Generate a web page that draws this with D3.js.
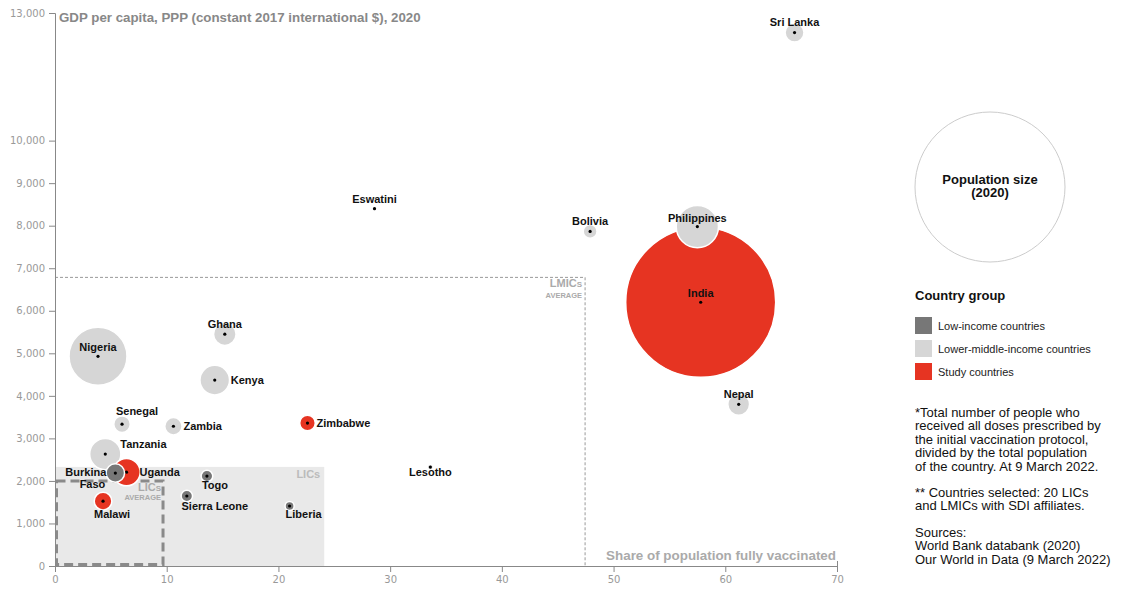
<!DOCTYPE html>
<html>
<head>
<meta charset="utf-8">
<script src="https://cdn.jsdelivr.net/npm/d3@7"></script>
<style>
  body { margin: 0; background: #fff; }
  svg { font-family: "Liberation Sans", Arial, sans-serif; }
  .tick text { font-family: "DejaVu Sans", sans-serif; font-size: 10px; fill: #999; }
  .axis path, .axis line { stroke: #888; }
</style>
</head>
<body>
<div id="vis"></div>
<script>
// countries, vaccination share (%), GDP per capita, population (millions), group
const countries  = ['India', 'Nigeria', 'Philippines', 'Tanzania', 'Kenya', 'Uganda', 'Ghana', 'Nepal', 'Sri Lanka', 'Burkina Faso', 'Malawi', 'Zambia', 'Senegal', 'Zimbabwe', 'Bolivia', 'Togo', 'Sierra Leone', 'Liberia', 'Lesotho', 'Eswatini'];
const vaccinated = [57.8, 3.85, 57.5, 4.5, 14.3, 6.4, 15.2, 61.2, 66.2, 5.4, 4.3, 10.6, 6.0, 22.6, 47.9, 13.6, 11.8, 21.0, 33.6, 28.6];
const gdp        = [6200, 4930, 7980, 2630, 4370, 2205, 5450, 3800, 12540, 2185, 1525, 3285, 3335, 3360, 7865, 2115, 1645, 1410, 2325, 8400];
const population = [1380, 206, 109.6, 59.7, 53.8, 45.7, 31.1, 29.1, 21.9, 20.9, 19.1, 18.4, 16.7, 14.9, 11.7, 8.3, 8.0, 5.1, 2.1, 1.2];
const group      = ['study', 'lmic', 'lmic', 'lmic', 'lmic', 'study', 'lmic', 'lmic', 'lmic', 'lic', 'study', 'lmic', 'lmic', 'study', 'lmic', 'lic', 'lic', 'lic', 'lmic', 'lmic'];

const xTicks = [0, 10, 20, 30, 40, 50, 60, 70];
const yTicks = [0, 1000, 2000, 3000, 4000, 5000, 6000, 7000, 8000, 9000, 10000, 13000];

// reference areas
const licArea = { x: 24.1, y: 2330 };
const licAverage = { x: 9.67, y: 2000 };
const lmicAverage = { x: 47.45, y: 6785 };

const groupKeys = ['lic', 'lmic', 'study'];
const groupNames = ['Low-income countries', 'Lower-middle-income countries', 'Study countries'];
const groupColours = ['#777777', '#d6d6d6', '#e63422'];

const notes = [
  ['*Total number of people who', 'received all doses prescribed by', 'the initial vaccination protocol,', 'divided by the total population', 'of the country. At 9 March 2022.'],
  ['** Countries selected: 20 LICs', 'and LMICs with SDI affiliates.'],
  ['Sources:', 'World Bank databank (2020)', 'Our World in Data (9 March 2022)']
];

// label placement relative to the bubble centre: [dx, dy, anchor]
const labelPos = {
  'India': [0, -5, 'middle'], 'Nigeria': [0, -5, 'middle'], 'Philippines': [0, -5, 'middle'],
  'Tanzania': [15, -6, 'start'], 'Kenya': [16, 4, 'start'], 'Uganda': [13, 4, 'start'],
  'Ghana': [0, -6, 'middle'], 'Nepal': [0, -6, 'middle'], 'Sri Lanka': [0, -7, 'middle'],
  'Malawi': [9, 17, 'middle'], 'Zambia': [10, 4, 'start'], 'Senegal': [15, -9, 'middle'],
  'Zimbabwe': [9, 4, 'start'], 'Bolivia': [0, -6, 'middle'], 'Togo': [8, 13, 'middle'],
  'Sierra Leone': [28, 14, 'middle'], 'Liberia': [14, 12, 'middle'], 'Lesotho': [0, 9, 'middle'],
  'Eswatini': [0, -6, 'middle']
};

const width = 1128;
const height = 589;

const x = d3.scaleLinear().domain([0, 70]).range([55, 837]);
const y = d3.scaleLinear().domain([0, 13000]).range([566, 13]);
const r = d3.scaleSqrt().domain([0, 1380]).range([0, 75]);
const colour = d3.scaleOrdinal().domain(groupKeys).range(groupColours);

const nodes = countries.map((c, i) => ({
  name: c, vx: vaccinated[i], gdp: gdp[i], pop: population[i], group: group[i]
})).sort((a, b) => b.pop - a.pop);

const svg = d3.select('#vis').append('svg')
  .attr('width', width)
  .attr('height', height);

// LICs shaded zone
svg.append('rect')
  .attr('x', x(0)).attr('y', y(licArea.y))
  .attr('width', x(licArea.x) - x(0)).attr('height', y(0) - y(licArea.y))
  .attr('fill', '#e9e9e9');

svg.append('text')
  .attr('x', x(licArea.x) - 4).attr('y', y(licArea.y) + 11)
  .attr('text-anchor', 'end')
  .attr('font-size', 11).attr('font-weight', 'bold').attr('fill', '#bbb')
  .text('LICs');

// LMICs average (dotted)
svg.append('path')
  .attr('d', `M${x(0)},${y(lmicAverage.y)}H${x(lmicAverage.x)}V${y(0)}`)
  .attr('fill', 'none').attr('stroke', '#999').attr('stroke-width', 1)
  .attr('stroke-dasharray', '3,2');

const lmicLabel = svg.append('text')
  .attr('x', x(lmicAverage.x) - 3).attr('y', y(lmicAverage.y) + 10)
  .attr('text-anchor', 'end').attr('font-weight', 'bold').attr('fill', '#aaa');
lmicLabel.append('tspan').attr('font-size', 11).text('LMIC');
lmicLabel.append('tspan').attr('font-size', 8).text('S');
svg.append('text')
  .attr('x', x(lmicAverage.x) - 3).attr('y', y(lmicAverage.y) + 21)
  .attr('text-anchor', 'end').attr('font-size', 7.5).attr('font-weight', 'bold').attr('fill', '#aaa')
  .text('AVERAGE');

// LICs average (dashed box)
svg.append('rect')
  .attr('x', x(0) + 1.5).attr('y', y(licAverage.y))
  .attr('width', x(licAverage.x) - x(0) - 1.5).attr('height', y(0) - y(licAverage.y) - 1.5)
  .attr('fill', 'none').attr('stroke', '#8a8a8a').attr('stroke-width', 3)
  .attr('stroke-dasharray', '9,5');

const licLabel = svg.append('text')
  .attr('x', x(licAverage.x) - 2).attr('y', y(licAverage.y) + 10)
  .attr('text-anchor', 'end').attr('font-weight', 'bold').attr('fill', '#aaa');
licLabel.append('tspan').attr('font-size', 11).text('LIC');
licLabel.append('tspan').attr('font-size', 8).text('S');
svg.append('text')
  .attr('x', x(licAverage.x) - 2).attr('y', y(licAverage.y) + 19)
  .attr('text-anchor', 'end').attr('font-size', 7.5).attr('font-weight', 'bold').attr('fill', '#aaa')
  .text('AVERAGE');

// axes
svg.append('g')
  .attr('class', 'axis')
  .attr('transform', `translate(0,${y(0)})`)
  .call(d3.axisBottom(x).tickValues(xTicks).tickFormat(d3.format('d')).tickSizeOuter(-5).tickPadding(4));

svg.append('g')
  .attr('class', 'axis')
  .attr('transform', `translate(${x(0)},0)`)
  .call(d3.axisLeft(y).tickValues(yTicks).tickFormat(d3.format(',')).tickPadding(4));

svg.append('text')
  .attr('x', 59).attr('y', 22)
  .attr('font-size', 13.3).attr('font-weight', 'bold').attr('fill', '#888')
  .text('GDP per capita, PPP (constant 2017 international $), 2020');

svg.append('text')
  .attr('x', 836).attr('y', 560)
  .attr('text-anchor', 'end')
  .attr('font-size', 13.4).attr('font-weight', 'bold').attr('fill', '#aaa')
  .text('Share of population fully vaccinated');

// bubbles
const bubbles = svg.append('g').selectAll('g')
  .data(nodes)
  .enter()
  .append('g')
  .attr('transform', d => `translate(${x(d.vx)},${y(d.gdp)})`);

bubbles.append('circle')
  .attr('r', d => r(d.pop))
  .attr('fill', d => colour(d.group))
  .attr('stroke', '#fff')
  .attr('stroke-width', 1.5);

bubbles.append('circle')
  .attr('r', 1.6)
  .attr('fill', '#000');

// labels
const labels = svg.append('g')
  .attr('font-size', 11).attr('font-weight', 'bold').attr('fill', '#111');

nodes.forEach(d => {
  if (d.name === 'Burkina Faso') {
    const t = labels.append('text').attr('text-anchor', 'end');
    t.append('tspan').attr('x', x(d.vx) - 9).attr('y', y(d.gdp) + 3).text('Burkina');
    t.append('tspan').attr('x', x(d.vx) - 10).attr('y', y(d.gdp) + 15).text('Faso');
    return;
  }
  const p = labelPos[d.name];
  if (!p) return;
  labels.append('text')
    .attr('x', x(d.vx) + p[0])
    .attr('y', y(d.gdp) + p[1])
    .attr('text-anchor', p[2])
    .text(d.name);
});

// population size legend
const popLegend = svg.append('g').attr('transform', 'translate(990,187)');
popLegend.append('circle')
  .attr('r', r(1380))
  .attr('fill', 'none').attr('stroke', '#ccc').attr('stroke-width', 1);
popLegend.append('text')
  .attr('y', -3).attr('text-anchor', 'middle')
  .attr('font-size', 13).attr('font-weight', 'bold').attr('fill', '#111')
  .text('Population size');
popLegend.append('text')
  .attr('y', 10).attr('text-anchor', 'middle')
  .attr('font-size', 13).attr('font-weight', 'bold').attr('fill', '#111')
  .text('(2020)');

// country group legend
const legend = svg.append('g').attr('transform', 'translate(915,300)');
legend.append('text')
  .attr('font-size', 13).attr('font-weight', 'bold').attr('fill', '#111')
  .text('Country group');

const items = legend.selectAll('.item')
  .data(groupKeys)
  .enter()
  .append('g')
  .attr('transform', (d, i) => `translate(0,${17 + i * 23})`);

items.append('rect')
  .attr('width', 17).attr('height', 17)
  .attr('fill', d => colour(d));

items.append('text')
  .attr('x', 23).attr('y', 13)
  .attr('font-size', 11).attr('fill', '#222')
  .text((d, i) => groupNames[i]);

// notes
const noteText = svg.append('text')
  .attr('font-size', 13).attr('fill', '#111');
let ny = 417;
notes.forEach(block => {
  block.forEach(line => {
    noteText.append('tspan').attr('x', 915).attr('y', ny).text(line);
    ny += 13.4;
  });
  ny += 13;
});
</script>
</body>
</html>
